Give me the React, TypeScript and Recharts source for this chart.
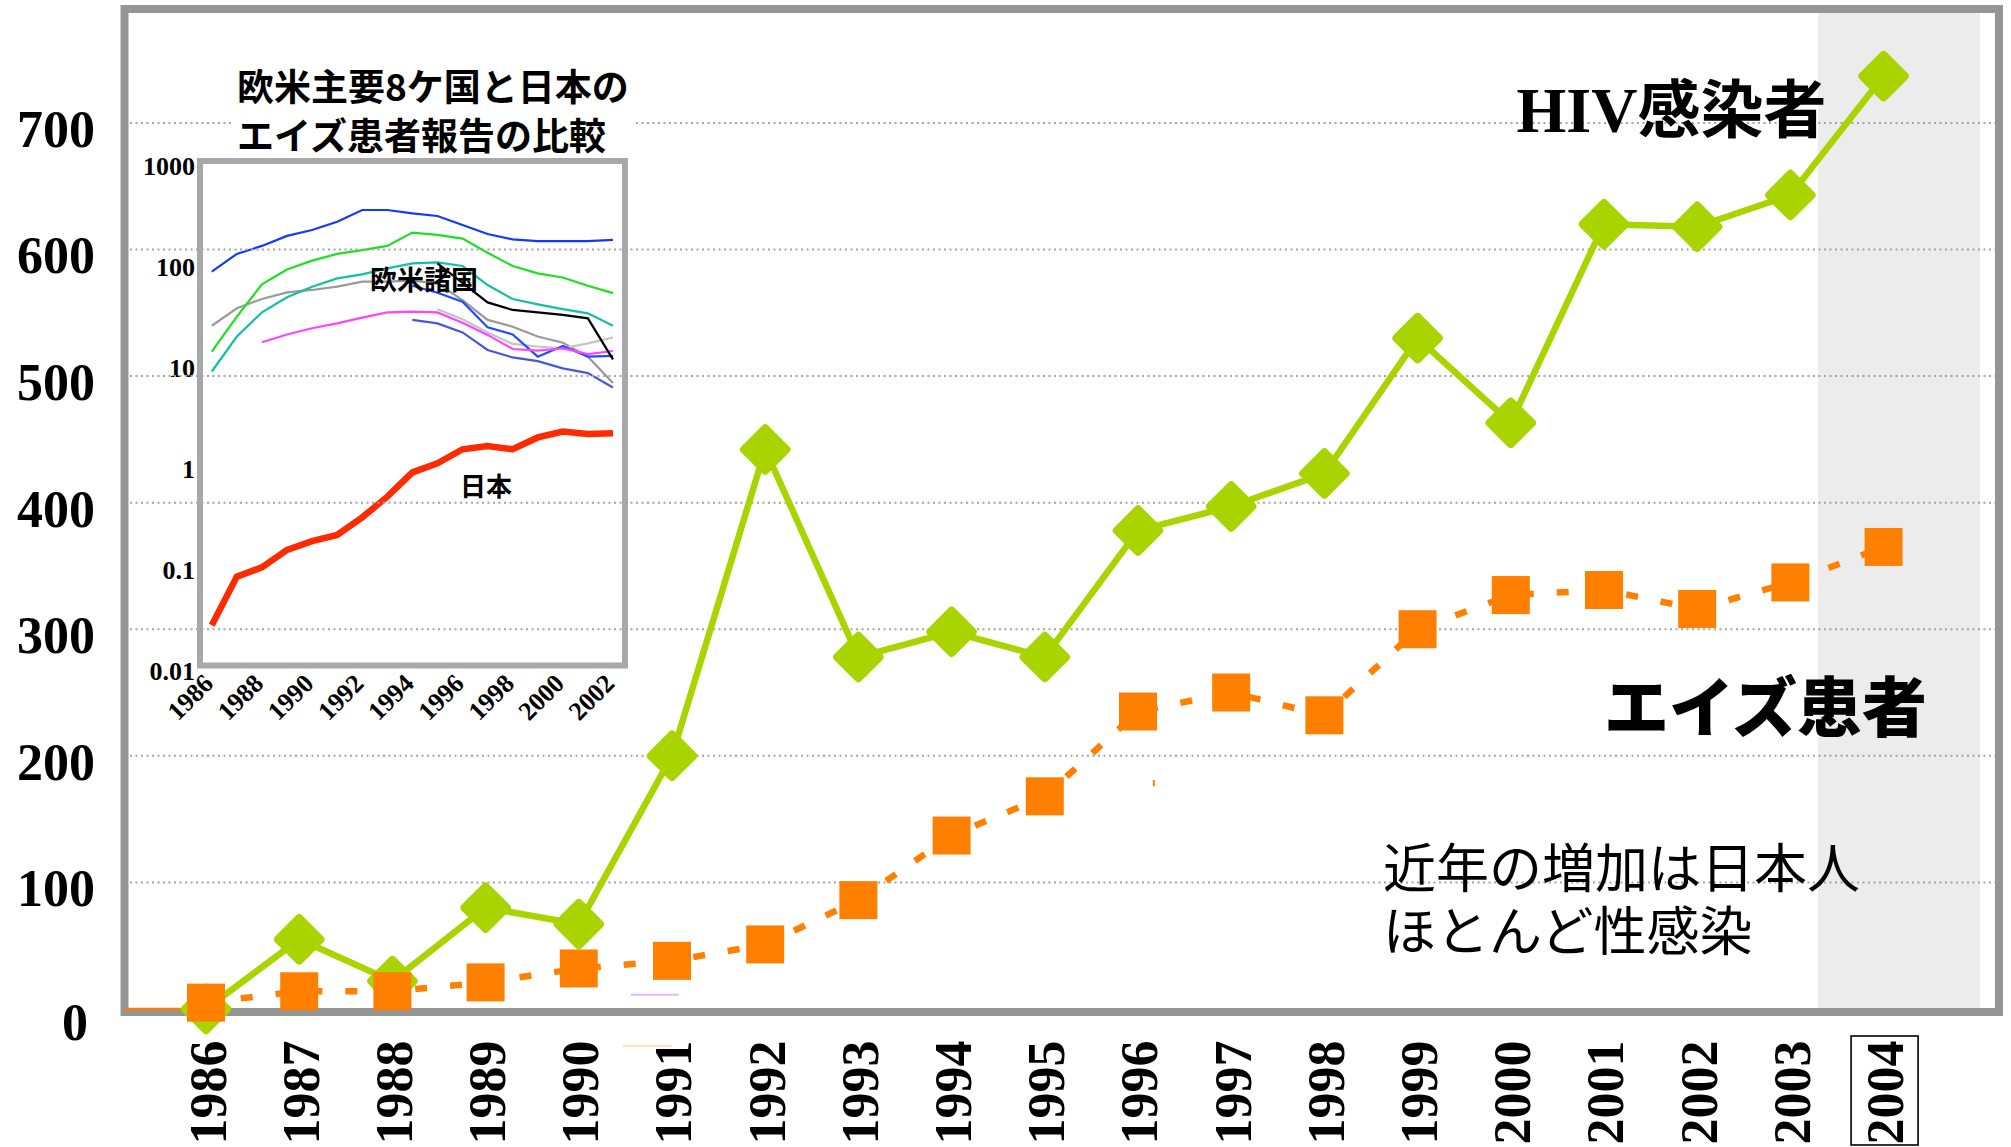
import React from 'react';
import { LineChart, Line, XAxis, YAxis, CartesianGrid, ReferenceArea, ReferenceLine } from 'recharts';

// ---------- main chart data ----------
const years = [1986, 1987, 1988, 1989, 1990, 1991, 1992, 1993, 1994, 1995, 1996, 1997, 1998, 1999, 2000, 2001, 2002, 2003, 2004];
const hivInfections = [0, 55, 22, 80, 67, 200, 442, 278, 298, 278, 378, 397, 423, 530, 463, 620, 618, 643, 737];
const aidsPatients = [5, 14, 14, 21, 32, 38, 51, 86, 137, 168, 235, 250, 232, 300, 327, 331, 316, 337, 365];
const yTicks = [0, 100, 200, 300, 400, 500, 600, 700];
const leadInYears = [1985, 1986];
const leadInValues = [0, 0];
const highlightYear = 2004;

// ---------- inset chart data (log scale) ----------
const insetYears = [1986, 1987, 1988, 1989, 1990, 1991, 1992, 1993, 1994, 1995, 1996, 1997, 1998, 1999, 2000, 2001, 2002];
const insetXTicks = [1986, 1988, 1990, 1992, 1994, 1996, 1998, 2000, 2002];
const insetYTicks = [0.01, 0.1, 1, 10, 100, 1000];
const westBlue = [80, 120, 144, 181, 207, 250, 327, 327, 303, 285, 232, 189, 167, 161, 161, 161, 165];
const westGreen = [12.9, 28.7, 60, 84, 103, 120, 131, 144, 195, 185, 170, 123, 91, 77, 70, 58, 49];
const westTeal = [8.2, 18.2, 31.6, 44.6, 56.8, 68.7, 75.3, 86.3, 96.8, 99, 91, 59, 42.9, 38, 34.1, 30.9, 23.3];
const westGray = [23.3, 34.7, 42.9, 49.9, 52.7, 56.8, 63.7, 63.7, 65.2, 61.3, 41.9, 26.6, 22.8, 18.2, 15.8, 11.5, 6.3];
const westPink = [null, null, 16, 19.1, 22, 24.6, 28, 31.6, 32.1, 31.6, 25, 18.9, 13.7, 13.2, 13.9, 12.2, 13.1];
const westBlack = [null, null, null, null, null, null, null, null, null, 96.8, 62, 39.7, 33.4, 31.6, 29.8, 27.6, 10.8];
const westLightGray = [null, null, null, null, null, null, null, null, null, 34, 27, 20, 15.4, 14.5, 13.9, 15.6, 17.8];
const westBlue2 = [null, null, null, null, null, null, null, null, 58, 49.5, 40.3, 22.5, 19.1, 11.5, 14.7, 11.5, 11.7];
const westIndigo = [null, null, null, null, null, null, null, null, 26.6, 24.6, 20, 13.4, 11.3, 10.4, 8.8, 7.9, 5.7];
const japanAids = [0.025, 0.076, 0.094, 0.14, 0.171, 0.197, 0.294, 0.471, 0.821, 1.01, 1.39, 1.5, 1.39, 1.82, 2.08, 1.97, 2.0];

// ---------- layout constants ----------
const W = 2011;
const H = 1147;
const SERIF = "'Liberation Serif', 'Times New Roman', serif";
const GOTHIC = "'Noto Sans CJK JP', 'Noto Sans', sans-serif";
const X_DOMAIN: [number, number] = [1985.1255, 2005.2385];
const Y_DOMAIN: [number, number] = [-2.4, 790];
const BAND: [number, number] = [2003.296, 2005.034];
const IX_DOMAIN: [number, number] = [1985.53, 2002.48];
const IY_DOMAIN: [number, number] = [0.01, 1000];

const mainData = years.map((year, i) => ({ year, hiv: hivInfections[i], aids: aidsPatients[i] }));
const leadInData = leadInYears.map((year, i) => ({ year, v: leadInValues[i] }));
const insetData = insetYears.map((year, i) => ({
  year,
  blue: westBlue[i],
  green: westGreen[i],
  teal: westTeal[i],
  gray: westGray[i],
  pink: westPink[i],
  black: westBlack[i],
  lightgray: westLightGray[i],
  blue2: westBlue2[i],
  indigo: westIndigo[i],
  japan: japanAids[i],
}));

const insetSeries: { key: string; color: string }[] = [
  { key: 'gray', color: '#9a9a9a' },
  { key: 'lightgray', color: '#c4c4c4' },
  { key: 'indigo', color: '#4a58d8' },
  { key: 'blue2', color: '#1f4cff' },
  { key: 'pink', color: '#ff44ff' },
  { key: 'teal', color: '#14bfa4' },
  { key: 'green', color: '#1fe01f' },
  { key: 'blue', color: '#1537ff' },
  { key: 'black', color: '#000000' },
];

const Diamond = (p: any) => {
  const { cx, cy, index } = p;
  if (cx == null || cy == null) return <g key={`hd${index}`} />;
  return (
    <rect key={`hd${index}`} x={cx - 19} y={cy - 19} width={38} height={38} rx={4} ry={4}
      fill="#aad400" transform={`rotate(45 ${cx} ${cy})`} />
  );
};

const Square = (p: any) => {
  const { cx, cy, index } = p;
  if (cx == null || cy == null) return <g key={`as${index}`} />;
  return <rect key={`as${index}`} x={cx - 19} y={cy - 19} width={38} height={38} fill="#ff8000" />;
};

const MainXTick = (p: any) => {
  const { x, payload } = p;
  const ax = x + 19.5;
  const ay = 1144.5;
  return (
    <g>
      <text x={ax} y={ay} transform={`rotate(-90 ${ax} ${ay})`} textAnchor="start"
        fontFamily={SERIF} fontWeight="bold" fontSize={52} fill="#000">{payload.value}</text>
      {payload.value === highlightYear && (
        <rect x={x - 32.5} y={1036} width={67} height={109} fill="none" stroke="#000" strokeWidth={1.6} />
      )}
    </g>
  );
};

const MainYTick = (p: any) => {
  const { y, payload } = p;
  const v = payload.value;
  return (
    <text x={v === 0 ? 88 : 95} y={y + (v === 0 ? 31 : 24)} textAnchor="end"
      fontFamily={SERIF} fontWeight="bold" fontSize={52} fill="#000">{v}</text>
  );
};

const InsetXTick = (p: any) => {
  const { x, payload } = p;
  const ax = x + 3;
  const ay = 685;
  return (
    <text x={ax} y={ay} transform={`rotate(-45 ${ax} ${ay})`} textAnchor="end"
      fontFamily={SERIF} fontWeight="bold" fontSize={26} fill="#000">{payload.value}</text>
  );
};

const InsetYTick = (p: any) => {
  const { y, payload } = p;
  return (
    <text x={195} y={y + 14} textAnchor="end" fontFamily={SERIF} fontWeight="bold" fontSize={26} fill="#000">
      {String(payload.value)}
    </text>
  );
};

function InsetChart() {
  return (
    <LineChart width={W} height={H} data={insetData} margin={{ top: 161, right: 1386, bottom: 421.5, left: 140 }}>
      <XAxis dataKey="year" type="number" domain={IX_DOMAIN} allowDataOverflow ticks={insetXTicks} interval={0}
        axisLine={false} tickLine={false} height={60} tick={InsetXTick} />
      <YAxis type="number" scale="log" domain={IY_DOMAIN} allowDataOverflow ticks={insetYTicks} interval={0}
        axisLine={false} tickLine={false} width={60} tick={InsetYTick} />
      <ReferenceArea x1={IX_DOMAIN[0]} x2={IX_DOMAIN[1]} y1={IY_DOMAIN[0]} y2={IY_DOMAIN[1]}
        fill="none" stroke="#a8a8a8" strokeWidth={6} zIndex={-100} />
      {insetSeries.map((s) => (
        <Line key={s.key} dataKey={s.key} stroke={s.color} strokeWidth={2.2} dot={false} activeDot={false}
          connectNulls={false} isAnimationActive={false} />
      ))}
      <Line dataKey="japan" stroke="#ff2a00" strokeWidth={6.5} dot={false} activeDot={false} isAnimationActive={false} />
    </LineChart>
  );
}

function MainChart() {
  return (
    <LineChart width={W} height={H} data={mainData} margin={{ top: 9, right: 12, bottom: 0, left: 24.5 }}>
      <XAxis dataKey="year" type="number" domain={X_DOMAIN} ticks={years} interval={0}
        axisLine={false} tickLine={false} height={135} tick={MainXTick} />
      <XAxis xAxisId="clip" dataKey="year" type="number" domain={X_DOMAIN} allowDataOverflow hide />
      <YAxis type="number" domain={Y_DOMAIN} ticks={yTicks} interval={0}
        axisLine={false} tickLine={false} width={100} tick={MainYTick} />
      <ReferenceArea x1={BAND[0]} x2={BAND[1]} y1={Y_DOMAIN[0]} y2={Y_DOMAIN[1]}
        fill="#ececec" fillOpacity={1} stroke="none" zIndex={-300} />
      <CartesianGrid vertical={false} stroke="#a4a4a4" strokeWidth={2} strokeDasharray="2 3.5" zIndex={-200} />
      <ReferenceArea x1={X_DOMAIN[0]} x2={X_DOMAIN[1]} y1={Y_DOMAIN[0]} y2={Y_DOMAIN[1]}
        fill="none" stroke="#959595" strokeWidth={8} zIndex={-100} />
      <ReferenceLine segment={[{ x: 1990.56, y: 11.3 }, { x: 1991.075, y: 11.3 }]} stroke="#dcbcff" strokeWidth={2} ifOverflow="visible" />
      <ReferenceLine segment={[{ x: 1990.474, y: -29 }, { x: 1991.0, y: -29 }]} stroke="#ffdcb8" strokeWidth={2} ifOverflow="visible" />
      <ReferenceLine segment={[{ x: 1996.17, y: 176 }, { x: 1996.17, y: 181 }]} stroke="#ff8000" strokeWidth={2} ifOverflow="visible" />
      <Line data={leadInData} xAxisId="clip" dataKey="v" stroke="#ff8000" strokeWidth={2.5} dot={false}
        activeDot={false} isAnimationActive={false} />
      <Line dataKey="hiv" stroke="#aad400" strokeWidth={6.5} dot={Diamond} activeDot={false} isAnimationActive={false} />
      <Line dataKey="aids" stroke="#ff8000" strokeWidth={6.5} strokeDasharray="12 23" dot={Square}
        activeDot={false} isAnimationActive={false} />
    </LineChart>
  );
}

function Overlay() {
  return (
    <svg width={W} height={H} style={{ position: 'absolute', left: 0, top: 0 }}>
      <rect x={234} y={62} width={402} height={95} fill="#fff" />
      <text fontFamily={GOTHIC} fontWeight={700} fontSize={37} fill="#000">
        <tspan x={237} y={101}>欧米主要8ケ国と日本の</tspan>
        <tspan x={237} y={150}>エイズ患者報告の比較</tspan>
      </text>
      <text x={370} y={290} fontFamily={GOTHIC} fontWeight={700} fontSize={27} fill="#000">欧米諸国</text>
      <text x={460} y={496} fontFamily={GOTHIC} fontWeight={700} fontSize={26} fill="#000">日本</text>
      <text x={1516.5} y={132} fill="#000">
        <tspan fontFamily={SERIF} fontWeight="bold" fontSize={64}>HIV</tspan>
        <tspan fontFamily={GOTHIC} fontWeight={700} fontSize={63}>感染者</tspan>
      </text>
      <text x={1604} y={731} fontFamily={GOTHIC} fontWeight={900} fontSize={65} fill="#000">エイズ患者</text>
      <text fontFamily={GOTHIC} fontWeight={400} fontSize={53} fill="#000">
        <tspan x={1383} y={888}>近年の増加は日本人</tspan>
        <tspan x={1383} y={951}>ほとんど性感染</tspan>
      </text>
    </svg>
  );
}

export default function App() {
  return (
    <div style={{ position: 'absolute', left: 0, top: 0, width: W, height: H, background: '#fff', overflow: 'hidden' }}>
      <div style={{ position: 'absolute', left: 0, top: 0 }}>
        <InsetChart />
      </div>
      <div style={{ position: 'absolute', left: 0, top: 0 }}>
        <MainChart />
      </div>
      <Overlay />
    </div>
  );
}
